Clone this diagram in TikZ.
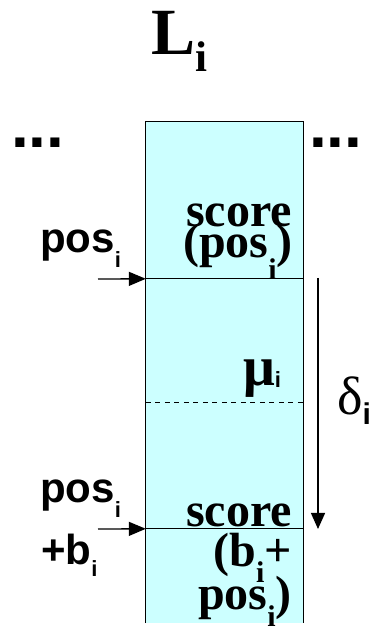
\documentclass[tikz,border=0pt]{standalone}
\usepackage{fontspec}
\setmainfont{Liberation Serif}
\newfontfamily\arialfont{Liberation Sans}
\usepackage{xcolor}
\definecolor{listCyan}{RGB}{204, 255, 255}
\usepackage{tikz}
\usetikzlibrary{arrows.meta, positioning}
\newcommand{\dn}[3]{\raisebox{-#2pt}{\fontsize{#1}{#1}\selectfont #3}}

\begin{document}
\begin{tikzpicture}[x=1pt, y=1pt,
  serif/.style={inner sep=0pt, font=\fontsize{48}{48}\selectfont\bfseries},
  sans/.style={inner sep=0pt, font=\fontsize{42}{42}\selectfont\arialfont\bfseries},
  greek/.style={inner sep=0pt, font=\fontsize{46}{46}\selectfont},
  dots/.style={inner sep=0pt, font=\fontsize{64}{64}\selectfont\arialfont\bfseries},
  rule/.style={line width=1.3pt},
  arr/.style={-{Triangle[length=17pt, width=14pt]}, line width=1.3pt}]

  \useasboundingbox (0,0) rectangle (371,634);

  % ── List column ──────────────────────────────────────────────────
  \node[fill=listCyan, minimum width=157pt, minimum height=501pt,
        inner sep=0pt] (list) at (224.5,261.5) {};
  \draw[rule] (list.south west) -- (list.north west)
              -- (list.north east) -- (list.south east);

  \node[serif, font=\fontsize{66}{66}\selectfont\bfseries, anchor=base west]
        (title) at (151,579) {L\dn{43}{17}{i}};
  \node[dots, anchor=base west] (dotsL) at (11,486) {...};
  \node[dots, anchor=base west] (dotsR) at (309,486) {...};

  % ── Entries inside the list ──────────────────────────────────────
  \coordinate (posL) at ([yshift=-157pt]list.north west);
  \coordinate (posR) at ([yshift=-157pt]list.north east);
  \coordinate (muL)  at ([yshift=-281pt]list.north west);
  \coordinate (muR)  at ([yshift=-281pt]list.north east);
  \coordinate (endL) at ([yshift=-407pt]list.north west);
  \coordinate (endR) at ([yshift=-407pt]list.north east);

  \draw[rule] (posL) -- (posR);
  \draw[line width=1pt, dash pattern=on 5pt off 4.5pt] (muL) -- (muR);
  \draw[rule] (endL) -- (endR);

  \node[serif, anchor=base east] (scoreA) at (292,407) {score};
  \node[serif, anchor=base east] (scoreAb) at (293,376) {(pos\dn{30}{22}{i})};
  \node[greek, font=\fontsize{56}{56}\selectfont\bfseries, anchor=base west]
        (mu) at (243,248) {μ\dn{22}{2}{\arialfont\bfseries i}};
  \node[serif, anchor=base east] (scoreB) at (292,107) {score};
  \node[serif, anchor=base east] (scoreBb) at (292,67) {(b\dn{30}{16}{i}+};
  \node[serif, anchor=base east] (scoreBc) at (292,24) {pos\dn{30}{17}{i})};

  % ── Positions on the left ────────────────────────────────────────
  \node[sans, anchor=base west] (posA) at (40,381) {pos\dn{22}{15}{i}};
  \node[sans, anchor=base west] (posB) at (40,131) {pos\dn{22}{15}{i}};
  \node[sans, anchor=base west] (plusB) at (41,69) {+b\dn{22}{12}{i}};

  \coordinate (posIn) at (98,355);
  \coordinate (endIn) at (98,105);
  \draw[arr] (posIn) -- (posL);
  \draw[arr] (endIn) -- (endL);

  % ── Distance on the right ────────────────────────────────────────
  \coordinate (dTop) at (318,356);
  \coordinate (dBot) at (318,105);
  \draw[arr, -{Triangle[length=16pt, width=14pt]}] (dTop) -- (dBot);
  \node[greek, font=\fontsize{54}{54}\selectfont, anchor=base west]
        (delta) at (337,219) {δ\dn{30}{10}{\arialfont\bfseries i}};

\end{tikzpicture}
\end{document}
